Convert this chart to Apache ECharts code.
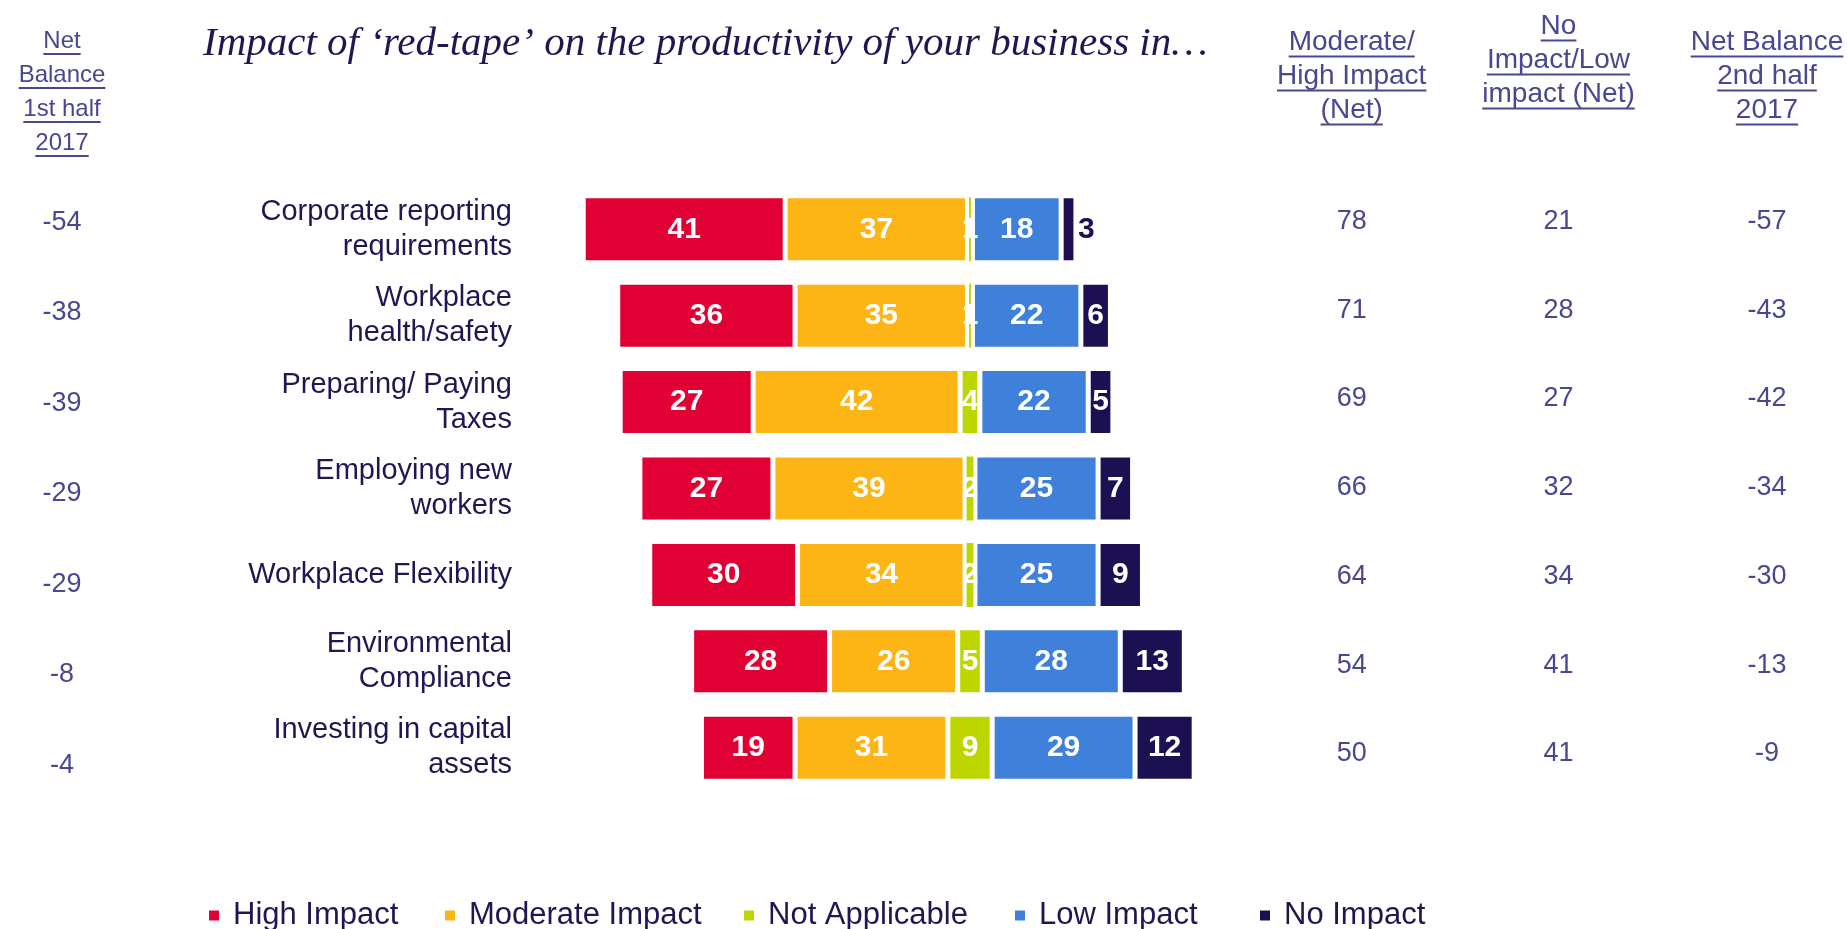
<!DOCTYPE html>
<html>
<head>
<meta charset="utf-8">
<script src="https://cdn.jsdelivr.net/npm/echarts@6/dist/echarts.min.js"></script>
<style>
  html, body { margin: 0; padding: 0; background: #ffffff; }
  #chart { width: 1847px; height: 929px; }
</style>
</head>
<body>
<div id="chart"></div>
<script>
// ---- data ----
const categories = [
  'Corporate reporting\nrequirements',
  'Workplace\nhealth/safety',
  'Preparing/ Paying\nTaxes',
  'Employing new\nworkers',
  'Workplace Flexibility',
  'Environmental\nCompliance',
  'Investing in capital\nassets'
];
const highImpact     = [41, 36, 27, 27, 30, 28, 19];
const moderateImpact = [37, 35, 42, 39, 34, 26, 31];
const notApplicable  = [1, 1, 4, 2, 2, 5, 9];
const lowImpact      = [18, 22, 22, 25, 25, 28, 29];
const noImpact       = [3, 6, 5, 7, 9, 13, 12];

const netBalanceH1    = [-54, -38, -39, -29, -29, -8, -4];
const moderateHighNet = [78, 71, 69, 66, 64, 54, 50];
const noLowNet        = [21, 28, 27, 32, 34, 41, 41];
const netBalanceH2    = [-57, -43, -42, -34, -30, -13, -9];

const seriesNames = ['High Impact', 'Moderate Impact', 'Not Applicable', 'Low Impact', 'No Impact'];
const titleText = 'Impact of \u2018red-tape\u2019 on the productivity of your business in\u2026';
const headerNetH1    = ['Net', 'Balance', '1st half', '2017'];
const headerModHigh  = ['Moderate/', 'High Impact', '(Net)'];
const headerNoLow    = ['No', 'Impact/Low', 'impact (Net)'];
const headerNetH2    = ['Net Balance', '2nd half', '2017'];

// ---- styling ----
const COLORS = ['#E10033', '#FDB515', '#BED600', '#3E80DA', '#1C1052'];
const NAVY = '#1E1852';
const SLATE = '#48478F';
const FONT = '"Liberation Sans", Arial, Helvetica, sans-serif';

// bars are centred on the middle of the "Not Applicable" segment
const CENTER_X = 970, UNIT = 4.927, ROW0 = 229.3, ROW_STEP = 86.4;
const barTop = ROW0 - ROW_STEP / 2;
const barHeight = ROW_STEP * categories.length;

const chart = echarts.init(document.getElementById('chart'), null, { renderer: 'canvas' });

const grids = [];
const xAxes = [];
const yAxes = [];

// grid 0: the diverging bars (value axis 0..200, centre at 100)
grids.push({ left: CENTER_X - 100 * UNIT, width: 200 * UNIT, top: barTop, height: barHeight, outerBoundsMode: 'none' });
xAxes.push({ gridIndex: 0, type: 'value', min: 0, max: 200, show: false });
yAxes.push({ gridIndex: 0, type: 'category', inverse: true, data: categories, show: false });

// grid 1: category names, right-aligned next to the bars
grids.push({ left: 514, width: 10, top: barTop, height: barHeight, outerBoundsMode: 'none' });
xAxes.push({ gridIndex: 1, type: 'value', show: false });
yAxes.push({
  gridIndex: 1, type: 'category', inverse: true, data: categories,
  axisLine: { show: false }, axisTick: { show: false }, splitLine: { show: false },
  axisLabel: { interval: 0, margin: 2, fontSize: 29, lineHeight: 35, color: NAVY, fontFamily: FONT, align: 'right' }
});

// side columns of figures
const columns = [
  { cx: 62,     first: 222.5, step: 90.5,  values: netBalanceH1 },
  { cx: 1351.7, first: 221.5, step: 88.75, values: moderateHighNet },
  { cx: 1558.5, first: 221.5, step: 88.75, values: noLowNet },
  { cx: 1767,   first: 221.5, step: 88.75, values: netBalanceH2 }
];
columns.forEach((col) => {
  const gi = grids.length;
  grids.push({ left: col.cx + 40, width: 10, top: col.first - col.step / 2, height: col.step * categories.length, outerBoundsMode: 'none' });
  xAxes.push({ gridIndex: gi, type: 'value', show: false });
  yAxes.push({
    gridIndex: gi, type: 'category', inverse: true, data: categories,
    axisLine: { show: false }, axisTick: { show: false }, splitLine: { show: false },
    axisLabel: {
      interval: 0, margin: 40, align: 'center', fontSize: 27, color: SLATE, fontFamily: FONT,
      formatter: (_, idx) => String(col.values[idx])
    }
  });
});

// stacked bar series: an invisible lead-in, then the five answer groups
const parts = [highImpact, moderateImpact, notApplicable, lowImpact, noImpact];
const leadIn = categories.map((_, i) => 100 - highImpact[i] - moderateImpact[i] - notApplicable[i] / 2);

const series = [{
  name: 'lead', type: 'bar', stack: 'total', xAxisIndex: 0, yAxisIndex: 0,
  barWidth: 67, silent: true,
  itemStyle: { color: 'rgba(0,0,0,0)' }, label: { show: false },
  data: leadIn
}];
parts.forEach((vals, k) => {
  series.push({
    name: seriesNames[k], type: 'bar', stack: 'total', xAxisIndex: 0, yAxisIndex: 0,
    barWidth: 67,
    itemStyle: { color: COLORS[k], borderColor: '#ffffff', borderWidth: 2.5 },
    label: {
      show: true, position: 'inside', color: '#ffffff', fontFamily: FONT,
      fontWeight: 'bold', fontSize: 30, formatter: '{c}'
    },
    data: vals.map((v) => {
      const item = { value: v };
      if (k === 2 && v <= 2) item.itemStyle = { borderWidth: 1.5 };
      if (k === 4 && v <= 3) item.label = { position: 'right', distance: 2, color: COLORS[4] };
      return item;
    })
  });
});

// legends, one per answer group
const legendX = [207, 443, 742, 1013, 1258];
const legends = seriesNames.map((name, k) => ({
  data: [name], left: legendX[k], top: 900, icon: 'rect', padding: 0,
  itemWidth: 12, itemHeight: 12, itemGap: 0, selectedMode: false,
  textStyle: { fontSize: 31, color: NAVY, fontFamily: FONT, padding: [0, 0, 0, 8] }
}));

// underlined column headers
const measureCtx = document.createElement('canvas').getContext('2d');
function headerBlock(lines, cx, firstBaseline, step, size) {
  measureCtx.font = size + 'px ' + FONT;
  const els = [];
  lines.forEach((line, i) => {
    const base = firstBaseline + i * step;
    const w = measureCtx.measureText(line).width;
    els.push({
      type: 'text', silent: true,
      style: {
        text: line, x: cx, y: base - size * 0.36, font: size + 'px ' + FONT, fill: SLATE,
        textAlign: 'center', textVerticalAlign: 'middle', align: 'center', verticalAlign: 'middle'
      }
    });
    els.push({
      type: 'line', silent: true,
      shape: { x1: cx - w / 2, y1: base + 4, x2: cx + w / 2, y2: base + 4 },
      style: { stroke: SLATE, lineWidth: 2 }
    });
  });
  return els;
}

const graphics = [].concat(
  headerBlock(headerNetH1, 62, 50, 34, 24),
  headerBlock(headerModHigh, 1351.7, 52.5, 34, 28),
  headerBlock(headerNoLow, 1558.5, 36.5, 34, 28),
  headerBlock(headerNetH2, 1767, 52.5, 34, 28),
  [{
    type: 'text', silent: true,
    style: {
      text: titleText, x: 203, y: 44, font: 'italic 41px "Liberation Serif", "Times New Roman", serif',
      fill: NAVY, textAlign: 'left', textVerticalAlign: 'middle', align: 'left', verticalAlign: 'middle'
    }
  }]
);

chart.setOption({
  animation: false,
  backgroundColor: '#ffffff',
  grid: grids,
  xAxis: xAxes,
  yAxis: yAxes,
  legend: legends,
  graphic: { elements: graphics },
  series: series
});
</script>
</body>
</html>
